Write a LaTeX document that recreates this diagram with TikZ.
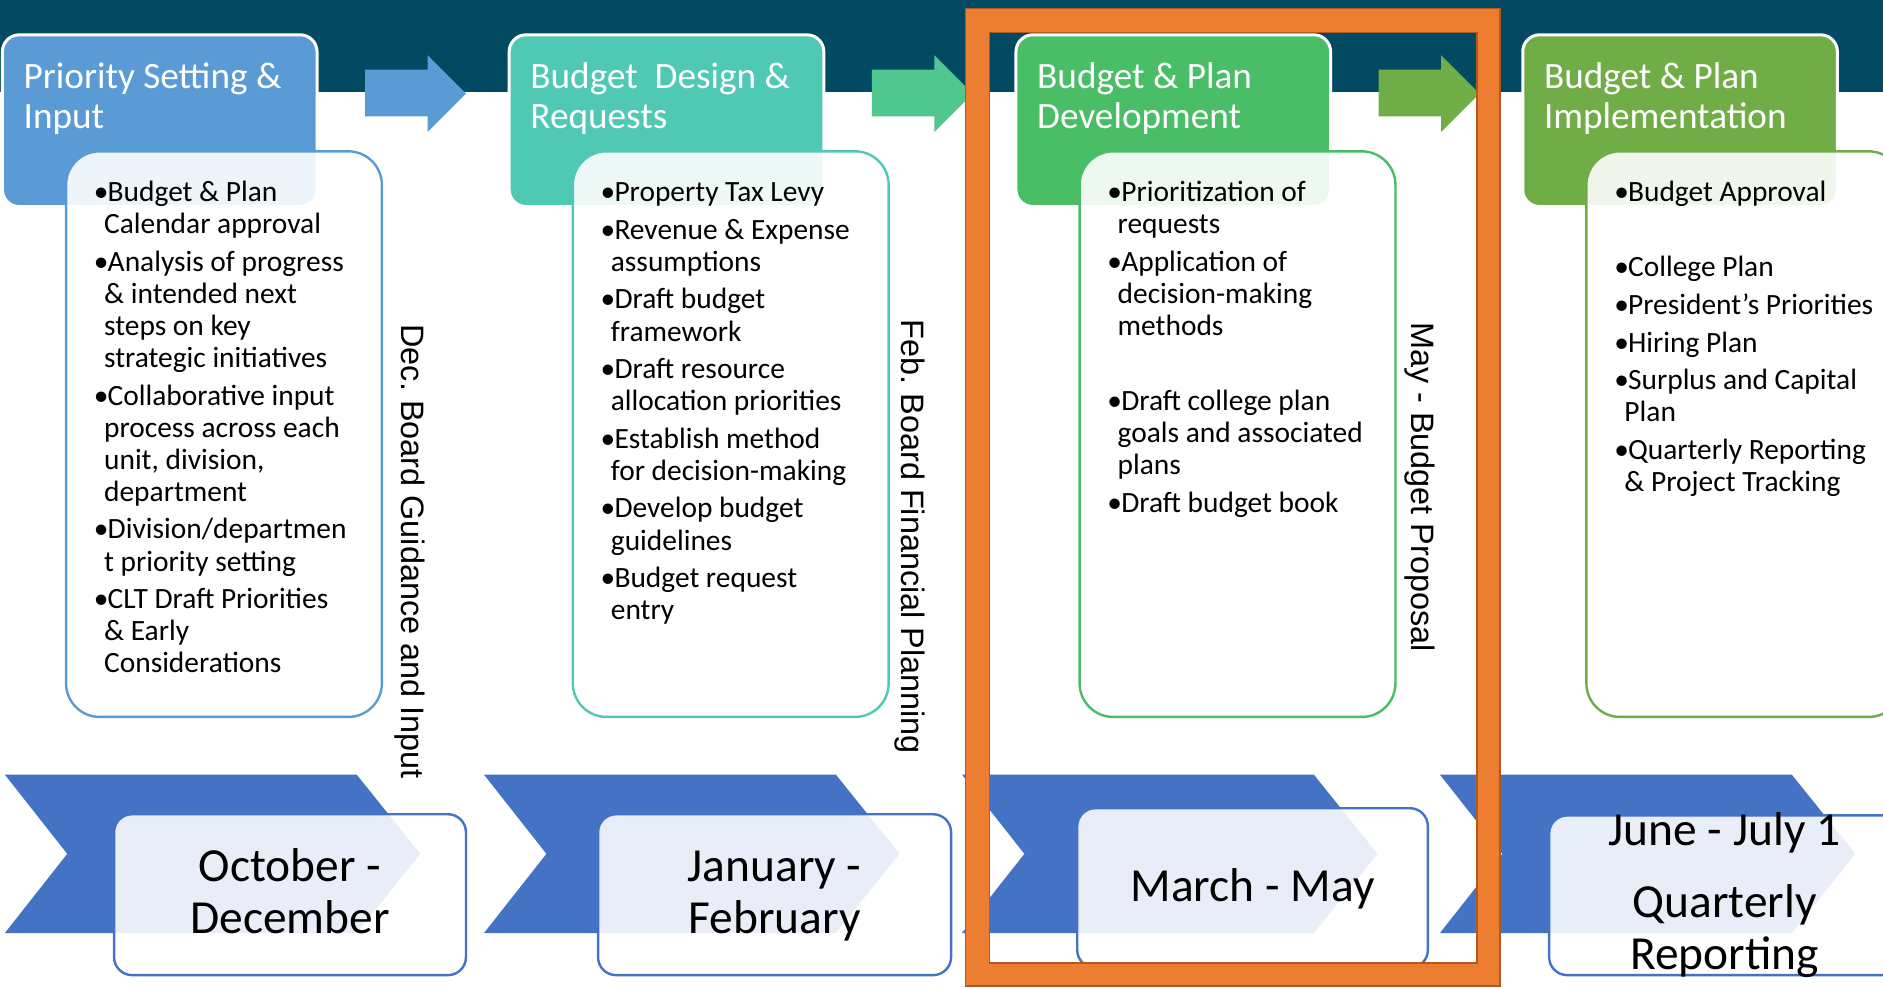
\documentclass[tikz,border=0pt]{standalone}
\usepackage{fontspec}
\setmainfont{Carlito}
\newfontfamily\arialf{Liberation Sans}
\definecolor{band}{HTML}{024A62}
\definecolor{hA}{HTML}{5B9BD5}
\definecolor{hB}{HTML}{4FC9B4}
\definecolor{hC}{HTML}{4ABE67}
\definecolor{hD}{HTML}{70AD47}
\definecolor{arB}{HTML}{50C78F}
\definecolor{chev}{HTML}{4472C4}
\definecolor{frfill}{HTML}{ED7D31}
\definecolor{fredge}{HTML}{AE5A21}
\newcommand{\bl}{\makebox[11.5pt][l]{•}}
\newcommand{\ct}{\hspace*{8.5pt}}
\frenchspacing
\begin{document}
\begin{tikzpicture}[x=1pt,y=-1pt,
  hdr/.style={rectangle, rounded corners=14pt, draw=white, line width=2.5pt,
    minimum width=262pt, minimum height=143pt, inner sep=0pt},
  cbox/.style={rectangle, rounded corners=28pt, line width=2pt, fill=white,
    fill opacity=0.9, minimum width=263pt, minimum height=471pt, inner sep=0pt},
  dbox/.style={rectangle, rounded corners=15pt, line width=2pt, draw=chev, fill=white,
    fill opacity=0.88, inner sep=0pt},
  htxt/.style={anchor=base west, inner sep=0pt, text=white,
    font=\fontsize{31}{33}\selectfont},
  btxt/.style={anchor=base west, inner sep=0pt, text=black,
    font=\fontsize{24.5}{26.7}\selectfont},
  dtxt/.style={anchor=base, inner sep=0pt, text=black,
    font=\fontsize{39.5}{43}\selectfont},
  vtxt/.style={rotate=-90, anchor=base west, inner sep=0pt, text=black,
    font=\arialf\fontsize{27}{32}\selectfont}]
\useasboundingbox (0,0) rectangle (1568,822);
\clip (0,0) rectangle (1568,822);
% top band
\fill[band] (0,0) rectangle (1568,77);
% header boxes
\node[hdr, fill=hA] (h1) at (133,100.5) {};
\node[hdr, fill=hB] (h2) at (555,100.5) {};
\node[hdr, fill=hC] (h3) at (977,100.5) {};
\node[hdr, fill=hD] (h4) at (1399,100.5) {};
\node[htxt] (h1t) at (19.5,74) {\begin{tabular}[t]{@{}l@{}}Priority Setting \&\\Input\end{tabular}};
\node[htxt] (h2t) at (441.5,74) {\begin{tabular}[t]{@{}l@{}}Budget\ \ Design \&\\Requests\end{tabular}};
\node[htxt] (h3t) at (863.5,74) {\begin{tabular}[t]{@{}l@{}}Budget \& Plan\\Development\end{tabular}};
\node[htxt] (h4t) at (1285.5,74) {\begin{tabular}[t]{@{}l@{}}Budget \& Plan\\Implementation\end{tabular}};
% block arrows
\foreach \s/\c in {0/hA,422/arB,844/hD}{
  \fill[\c] (304+\s,58) -- (356+\s,58) -- (356+\s,46) -- (388+\s,78)
    -- (356+\s,110) -- (356+\s,97) -- (304+\s,97) -- cycle;
}
% content boxes
\node[cbox, draw=hA] (c1) at (186.5,361.5) {};
\node[cbox, draw=hB] (c2) at (608.5,361.5) {};
\node[cbox, draw=hC] (c3) at (1030.5,361.5) {};
\node[cbox, draw=hD] (c4) at (1452.5,361.5) {};
\node[btxt] (c1t) at (78,168) {\begin{tabular}[t]{@{}l@{}}
\bl Budget \& Plan\\
\ct Calendar approval\\[4.6pt]
\bl Analysis of progress\\
\ct \& intended next\\
\ct steps on key\\
\ct strategic initiatives\\[4.6pt]
\bl Collaborative input\\
\ct process across each\\
\ct unit, division,\\
\ct department\\[4.6pt]
\bl Division/departmen\\
\ct t priority setting\\[4.6pt]
\bl CLT Draft Priorities\\
\ct \& Early\\
\ct Considerations
\end{tabular}};
\node[btxt] (c2t) at (500,168) {\begin{tabular}[t]{@{}l@{}}
\bl Property Tax Levy\\[4.6pt]
\bl Revenue \& Expense\\
\ct assumptions\\[4.6pt]
\bl Draft budget\\
\ct framework\\[4.6pt]
\bl Draft resource\\
\ct allocation priorities\\[4.6pt]
\bl Establish method\\
\ct for decision-making\\[4.6pt]
\bl Develop budget\\
\ct guidelines\\[4.6pt]
\bl Budget request\\
\ct entry
\end{tabular}};
\node[btxt] (c3t) at (922,168) {\begin{tabular}[t]{@{}l@{}}
\bl Prioritization of\\
\ct requests\\[4.6pt]
\bl Application of\\
\ct decision-making\\
\ct methods\\[4.6pt]
\\[4.6pt]
\bl Draft college plan\\
\ct goals and associated\\
\ct plans\\[4.6pt]
\bl Draft budget book
\end{tabular}};
\node[btxt] (c4t) at (1344,168) {\begin{tabular}[t]{@{}l@{}}
\bl Budget Approval\\[4.6pt]
\\[4.6pt]
\bl College Plan\\[4.6pt]
\bl President’s Priorities\\[4.6pt]
\bl Hiring Plan\\[4.6pt]
\bl Surplus and Capital\\
\ct Plan\\[4.6pt]
\bl Quarterly Reporting\\
\ct \& Project Tracking
\end{tabular}};
% vertical milestone labels
\node[vtxt] (v1) at (334,270) {Dec. Board Guidance and Input};
\node[vtxt] (v2) at (751,266) {Feb. Board Financial Planning};
\node[vtxt] (v3) at (1175,268) {May - Budget Proposal};
% bottom chevrons
\foreach \L in {4,403,801,1199}{
  \fill[chev] (\L,645) -- (\L+293,645) -- (\L+346,711) -- (\L+293,777)
    -- (\L,777) -- (\L+52,711) -- cycle;
}
% date boxes
\node[dbox, minimum width=293pt, minimum height=134pt] (d1) at (241.5,745) {};
\node[dbox, minimum width=294pt, minimum height=134pt] (d2) at (645,745) {};
\node[dbox, minimum width=292pt, minimum height=133pt] (d3) at (1043,739.5) {};
\node[dbox, minimum width=330pt, minimum height=133pt] (d4) at (1455,745.5) {};
\node[dtxt] (d1t) at (241.5,734) {\begin{tabular}[t]{@{}c@{}}October -\\December\end{tabular}};
\node[dtxt] (d2t) at (645,734) {\begin{tabular}[t]{@{}c@{}}January -\\February\end{tabular}};
\node[dtxt] (d3t) at (1043,751) {March - May};
\node[dtxt] (d4t) at (1436,704) {\begin{tabular}[t]{@{}c@{}}June - July 1\\[17pt]Quarterly\\Reporting\end{tabular}};
% orange highlight frame
\fill[frfill, even odd rule, draw=fredge, line width=1.5pt]
  (804,7) rectangle (1249,821) (824,27) rectangle (1230,802);
\end{tikzpicture}
\end{document}
